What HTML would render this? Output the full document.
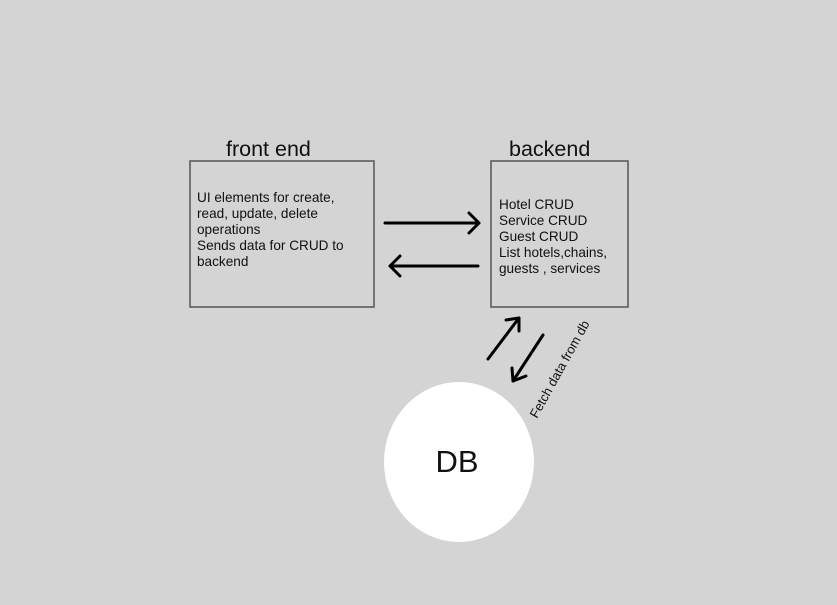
<!DOCTYPE html>
<html><head><style>body{margin:0;background:#d4d4d4}</style></head><body>
<svg width="837" height="605" xmlns="http://www.w3.org/2000/svg" style="display:block;font-family:'Liberation Sans',sans-serif">
<rect width="837" height="605" fill="#d4d4d4"/>
<rect x="190" y="161" width="184" height="146" fill="none" stroke="#555" stroke-width="1.5"/>
<rect x="491" y="161" width="137" height="146" fill="none" stroke="#555" stroke-width="1.5"/>
<text x="226" y="156" font-size="21.5" fill="#111">front end</text>
<text x="509" y="156" font-size="21.5" fill="#111">backend</text>
<g font-size="13.6" fill="#111">
<text x="197" y="202">UI elements for create,</text>
<text x="197" y="218">read, update, delete</text>
<text x="197" y="234">operations</text>
<text x="197" y="250">Sends data for CRUD to</text>
<text x="197" y="266">backend</text>
<text x="499" y="209">Hotel CRUD</text>
<text x="499" y="225">Service CRUD</text>
<text x="499" y="241">Guest CRUD</text>
<text x="499" y="257">List hotels,chains,</text>
<text x="499" y="273">guests , services</text>
</g>
<g stroke="#000" stroke-width="3" fill="none" stroke-linecap="round" stroke-linejoin="round">
<path d="M385 223H479M469 213L479 223L469 233"/>
<path d="M478 266H390M400 256L390 266L400 276"/>
<path d="M488 359L519 318M506 320L519 318L519 331"/>
<path d="M543 335L513 381M512 368L513 381L526 376"/>
</g>
<text transform="translate(537,419) rotate(-61)" font-size="13" fill="#111">Fetch data from db</text>
<ellipse cx="459" cy="462" rx="75" ry="80" fill="#fff"/>
<text x="457" y="472" font-size="31" fill="#111" text-anchor="middle">DB</text>
</svg>
</body></html>
